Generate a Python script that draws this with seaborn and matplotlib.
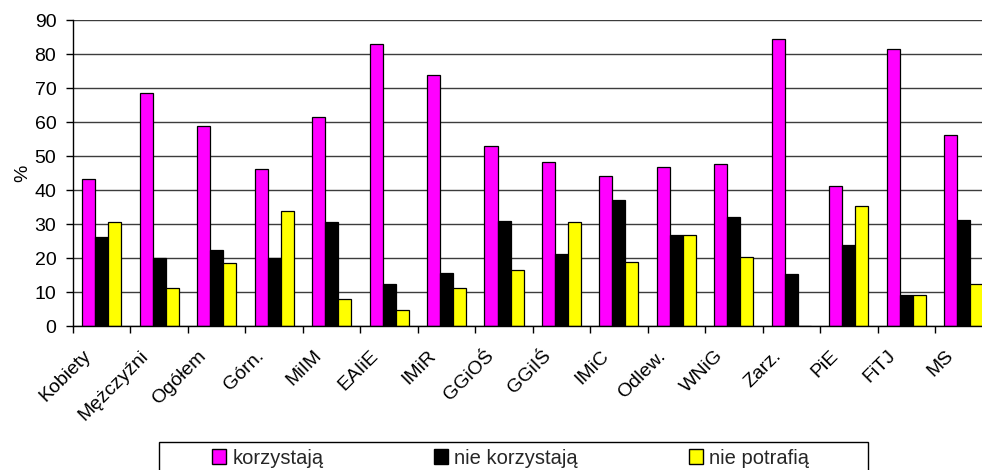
import numpy as np
import pandas as pd
import matplotlib
matplotlib.use("Agg")
import matplotlib.pyplot as plt
from matplotlib.patches import Patch, Rectangle
from matplotlib.ticker import MultipleLocator, FixedLocator, NullFormatter
from matplotlib.transforms import ScaledTranslation
import seaborn as sns

categories = ["Kobiety", "Mężczyźni", "Ogółem", "Górn.", "MiIM", "EAIiE", "IMiR",
              "GGiOŚ", "GGiIŚ", "IMiC", "Odlew.", "WNiG", "Zarz.", "PiE", "FiTJ", "MS"]
korzystaja = [43.3, 68.5, 58.9, 46.3, 61.5, 83.1, 73.8, 52.9, 48.2, 44.3, 46.8, 47.6, 84.5, 41.2, 81.6, 56.3]
nie_korzystaja = [26.3, 20.1, 22.5, 20.1, 30.8, 12.4, 15.6, 30.9, 21.4, 37.1, 26.8, 32.2, 15.5, 23.8, 9.3, 31.3]
nie_potrafia = [30.6, 11.4, 18.7, 33.8, 7.9, 4.9, 11.2, 16.6, 30.8, 19.0, 26.8, 20.4, 0.0, 35.4, 9.3, 12.5]
series_names = ["korzystają", "nie korzystają", "nie potrafią"]
series_colors = ["#FF00FF", "#000000", "#FFFF00"]

df = pd.DataFrame({
    "kategoria": categories * 3,
    "seria": np.repeat(series_names, len(categories)),
    "wartosc": korzystaja + nie_korzystaja + nie_potrafia,
})

sns.set_theme(style="white")
plt.rcParams["font.family"] = ["Liberation Sans", "DejaVu Sans"]

fig = plt.figure(figsize=(9.82, 4.70), dpi=100)
W, H = 982.0, 470.0
x0, x1 = 73.0, 992.5
y_top, y_bot = 20.3, 326.3
ax = fig.add_axes([x0 / W, 1 - y_bot / H, (x1 - x0) / W, (y_bot - y_top) / H])

sns.barplot(data=df, x="kategoria", y="wartosc", hue="seria", order=categories,
            hue_order=series_names, palette=series_colors, saturation=1, width=0.68,
            edgecolor="black", linewidth=0.9, legend=False, ax=ax, zorder=3)

ax.set_xlim(-0.5, len(categories) - 0.5)
ax.set_ylim(0, 90)
ax.yaxis.set_major_locator(MultipleLocator(10))
ax.grid(axis="y", color="#3c3c3c", linewidth=1.0, zorder=0)
ax.grid(axis="x", visible=False)
ax.set_axisbelow(True)

for s in ["top", "right"]:
    ax.spines[s].set_visible(False)
for s in ["left", "bottom"]:
    ax.spines[s].set_color("black")
    ax.spines[s].set_linewidth(1.0)
    ax.spines[s].set_zorder(4)

fs = 14
ax.set_xlabel("")
ax.set_ylabel("%", fontsize=fs, color="black", labelpad=2)
ax.tick_params(axis="y", left=True, length=5, width=1, color="black", pad=7,
               labelsize=fs, labelcolor="black")
ax.tick_params(axis="x", which="major", bottom=False, length=0)
ax.xaxis.set_major_formatter(NullFormatter())
ax.xaxis.set_minor_locator(FixedLocator(np.arange(-0.5, len(categories), 1.0)))
ax.tick_params(axis="x", which="minor", bottom=True, length=5, width=1, color="black")

lab_tr = ax.get_xaxis_transform() + ScaledTranslation(-19 / 100, -21 / 100, fig.dpi_scale_trans)
for i, name in enumerate(categories):
    ax.text(i, 0, name, transform=lab_tr, rotation=45, ha="right", va="top",
            rotation_mode="anchor", fontsize=fs, color="black", clip_on=False)

handles = [Patch(facecolor=c, edgecolor="black", linewidth=1.0) for c in series_colors]
leg = fig.legend(handles, series_names, loc="center left",
                 bbox_to_anchor=(212 / W, 1 - 458 / H), ncol=3, frameon=False,
                 fontsize=14.5, handlelength=0.7, handleheight=0.72, handletextpad=0.3,
                 columnspacing=5.5, borderpad=0, borderaxespad=0)
fig.patches.append(Rectangle((159 / W, 1 - 480 / H), (868 - 159) / W, (480 - 441.7) / H,
                             transform=fig.transFigure, fill=False, edgecolor="black",
                             linewidth=1.0))

fig.savefig("out.png", dpi=100)
